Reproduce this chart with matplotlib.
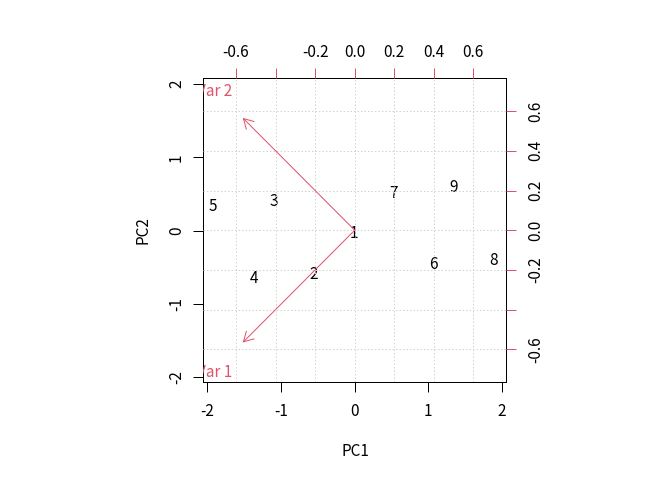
import matplotlib
matplotlib.use('Agg')
import matplotlib.pyplot as plt
from matplotlib.patches import FancyArrowPatch

plt.rcParams['font.family'] = ['Noto Sans CJK JP', 'DejaVu Sans']

# ── データ ──────────────────────────────────────────────
obs_labels = ['1', '2', '3', '4', '5', '6', '7', '8', '9']
pc1 = [-0.01, -0.56, -1.09, -1.37, -1.92, 1.07, 0.53, 1.88, 1.35]
pc2 = [-0.01, -0.57, 0.42, -0.63, 0.35, -0.44, 0.53, -0.38, 0.61]

var_labels = ['Var 1', 'Var 2']
load1 = [-0.7075, -0.7075]
load2 = [-0.7075, 0.7075]

prim_ticks = [-2, -1, 0, 1, 2]
sec_ticks = [-0.6, -0.4, -0.2, 0.0, 0.2, 0.4, 0.6]
sec_ticklabels = ['-0.6', '', '-0.2', '0.0', '0.2', '0.4', '0.6']

RED = '#DF536B'
FS = 11.5

fig = plt.figure(figsize=(7, 5), dpi=96)
rect = [203 / 672, 1 - 382 / 480, 303 / 672, 304 / 480]

# 主座標 (スコア)
ax = fig.add_axes(rect)
ax.set_xlim(-2.055, 2.055)
ax.set_ylim(-2.068, 2.082)
ax.set_xticks(prim_ticks)
ax.set_yticks(prim_ticks)
ax.set_xticklabels([str(t) for t in prim_ticks])
ax.set_yticklabels([str(t) for t in prim_ticks], rotation=90, va='center')
ax.tick_params(length=7.5, width=0.75, labelsize=FS)
ax.tick_params(axis='x', pad=8)
ax.tick_params(axis='y', pad=6)
for s in ax.spines.values():
    s.set_linewidth(0.75)

for lab, xv, yv in zip(obs_labels, pc1, pc2):
    ax.text(xv, yv, lab, ha='center', va='center_baseline', fontsize=FS,
            color='black')

# 副座標 (負荷量)
ax2 = fig.add_axes(rect, frameon=False)
ax2.patch.set_visible(False)
ax2.set_xlim(-0.767, 0.765)
ax2.set_ylim(-0.765, 0.767)
ax2.xaxis.tick_top()
ax2.yaxis.tick_right()
ax2.set_xticks(sec_ticks)
ax2.set_yticks(sec_ticks)
ax2.set_xticklabels(sec_ticklabels)
ax2.set_yticklabels(sec_ticklabels, rotation=90, va='center')
ax2.tick_params(length=7.5, width=0.75, color=RED, labelsize=FS)
ax2.tick_params(axis='x', pad=5)
ax2.tick_params(axis='y', pad=8.5)

for t in sec_ticks:
    ax2.axvline(t, color='#D3D3D3', lw=0.75, ls=(0, (1.5, 2)), zorder=0)
    ax2.axhline(t, color='#D3D3D3', lw=0.75, ls=(0, (1.5, 2)), zorder=0)

for lab, xv, yv in zip(var_labels, load1, load2):
    arr = FancyArrowPatch((0, 0), (0.8 * xv, 0.8 * yv),
                          arrowstyle='->,head_length=7.2,head_width=4.1',
                          mutation_scale=1, color=RED, lw=0.75,
                          shrinkA=0, shrinkB=0)
    ax2.add_patch(arr)
    ax2.text(xv, yv, lab, ha='center', va='center_baseline', fontsize=FS,
             color=RED, clip_on=True)

fig.text(355 / 672, 1 - 451 / 480, 'PC1', ha='center', va='center', fontsize=FS)
fig.text(143 / 672, 1 - 230 / 480, 'PC2', ha='center', va='center',
         fontsize=FS, rotation=90)

fig.savefig('out.png', dpi=96)
